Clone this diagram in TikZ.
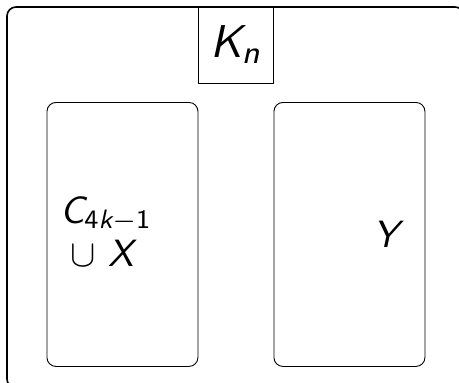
\documentclass[tikz,border=0pt]{standalone}
\usepackage{amsmath}
\usepackage{graphicx}
\newcommand\mi[1]{\textsf{\slshape #1}}
\begin{document}
\begin{tikzpicture}[x=1pt,y=-1pt,
  outerbox/.style={draw, line width=1.6pt, rounded corners=9pt},
  titlebox/.style={draw, line width=1.3pt, anchor=north west, inner sep=0pt},
  partbox/.style={draw, line width=0.9pt, rounded corners=9pt, anchor=north west, inner sep=0pt},
  bigtext/.style={font=\fontsize{10}{12}\selectfont, inner sep=0pt},
  labtext/.style={font=\fontsize{10}{12}\selectfont, inner sep=0pt, anchor=base west}]
\useasboundingbox (0,0) rectangle (459,383);
\draw[outerbox] (7,7) rectangle (464,388);
\node[titlebox, minimum width=75pt, minimum height=76pt] (title) at (198,7) {};
\node[bigtext, anchor=base] (kn) at (236,57) {\scalebox{4.6}{$\mi{K}_{\mi{n}}$}};
\node[partbox, minimum width=151pt, minimum height=264pt] (left) at (46.5,102) {};
\node[partbox, minimum width=151pt, minimum height=264pt] (right) at (273.5,102) {};
\node[labtext] (c) at (60,223) {\scalebox{3.8}{$\mi{C}_{\textsf{4}\mi{k}-\textsf{1}}$}};
\node[labtext] (ux) at (70,266) {\scalebox{3.8}{$\cup$ $\mi{X}$}};
\node[labtext] (y) at (373,247) {\scalebox{3.8}{$\mi{Y}$}};
\end{tikzpicture}
\end{document}
